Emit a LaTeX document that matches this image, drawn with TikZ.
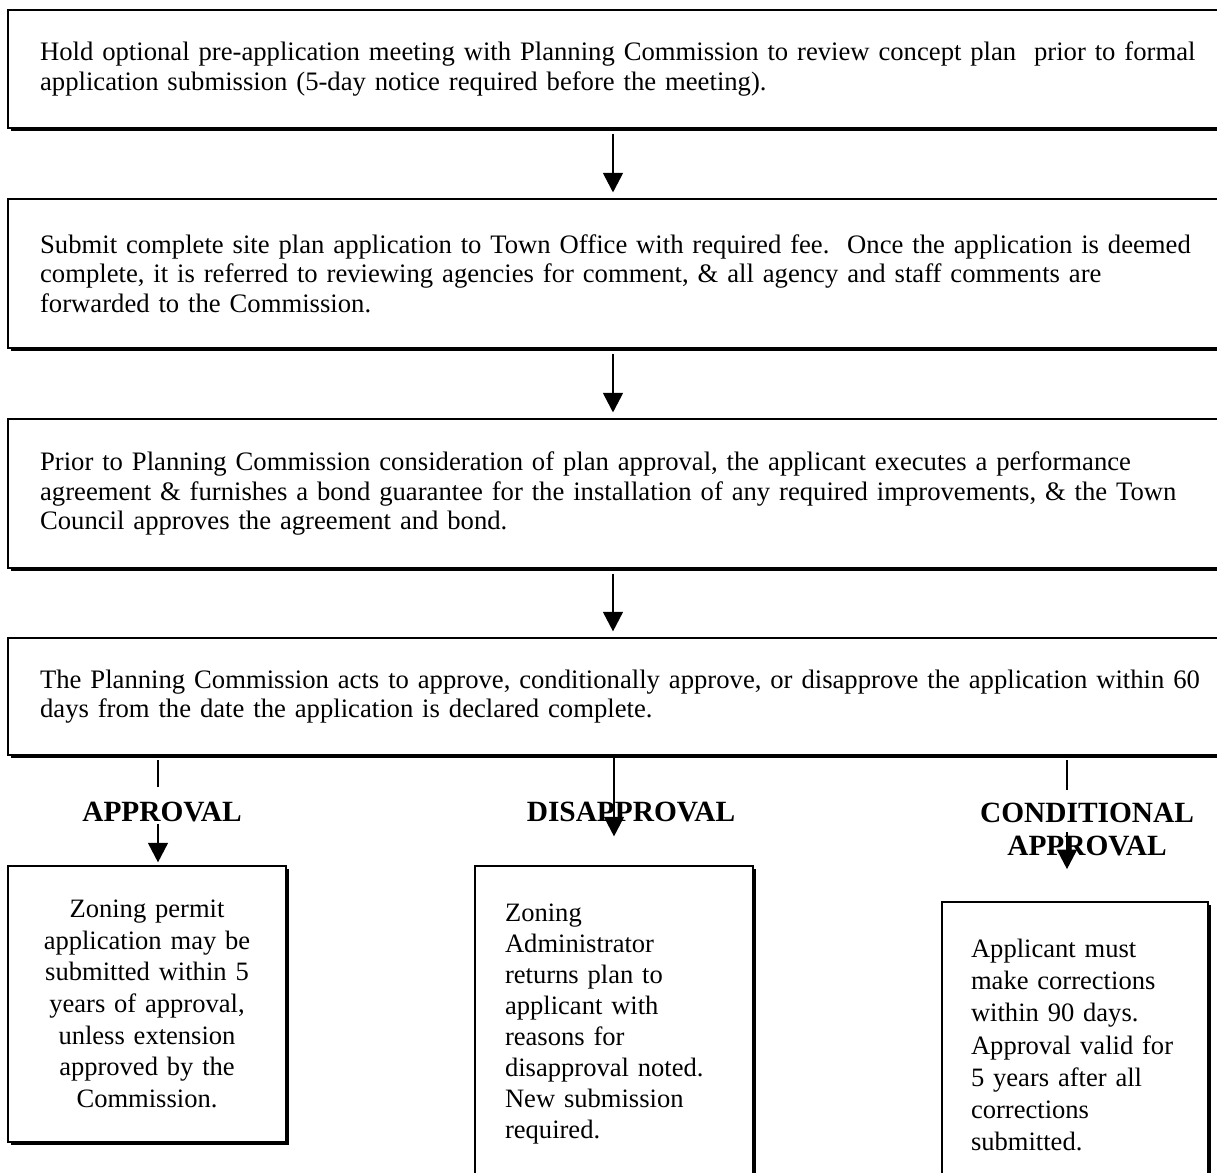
\documentclass[tikz,border=0pt]{standalone}
\usepackage{fontspec}
\setmainfont{Liberation Serif}
\usetikzlibrary{arrows.meta,shadows}

\tikzset{
	widebox/.style={draw, line width=0.65pt, fill=white, drop shadow={shadow xshift=1.4pt, shadow yshift=-1.4pt, opacity=1, fill=black}, text width=525.6pt, inner xsep=14.2pt, inner ysep=0pt, align=left, font={\fontsize{11.8}{13}\selectfont}},
	smallbox/.style={draw, line width=0.65pt, fill=white, drop shadow={shadow xshift=1.4pt, shadow yshift=-1.4pt, opacity=1, fill=black}, inner ysep=0pt, minimum width=123pt},
	headlbl/.style={inner sep=0pt, anchor=north, align=center, font={\bfseries\fontsize{13}{14.6}\selectfont}},
	flowarrow/.style={line width=0.6pt, -{Triangle[width=8.8pt,length=8.6pt]}},
	branchline/.style={line width=0.6pt}
}

\begin{document}
\begin{tikzpicture}[x=0.4425pt,y=-0.4425pt]

	\path[use as bounding box, fill=white] (0,0) rectangle (1217,1173);

	% main steps
	\node (hold) at (634,69) [widebox, minimum height=52.2pt] {Hold optional pre-application meeting with Planning Commission to review concept plan\ \ prior to formal\\ application submission (5-day notice required before the meeting).};
	\node (submit) at (634,273.5) [widebox, minimum height=65.9pt] {Submit complete site plan application to Town Office with required fee.\ \ Once the application is deemed\\ complete, it is referred to reviewing agencies for comment, \& all agency and staff comments are\\ forwarded to the Commission.};
	\node (bond) at (634,493.5) [widebox, minimum height=65.9pt] {Prior to Planning Commission consideration of plan approval, the applicant executes a performance\\ agreement \& furnishes a bond guarantee for the installation of any required improvements, \& the Town\\ Council approves the agreement and bond.};
	\node (decide) at (634,696.5) [widebox, minimum height=51.8pt] {The Planning Commission acts to approve, conditionally approve, or disapprove the application within 60\\ days from the date the application is declared complete.};

	\coordinate (midcol) at (613,0);
	\draw[flowarrow, shorten <=2.2pt, shorten >=2.6pt] (hold.south -| midcol) -- (submit.north -| midcol);
	\draw[flowarrow, shorten <=2.2pt, shorten >=2.6pt] (submit.south -| midcol) -- (bond.north -| midcol);
	\draw[flowarrow, shorten <=2.2pt, shorten >=2.6pt] (bond.south -| midcol) -- (decide.north -| midcol);

	% outcomes
	\node (apprlbl) at (162,802) [headlbl] {APPROVAL};
	\node (disapprlbl) at (631,802) [headlbl] {DISAPPROVAL};
	\node (condlbl) at (1087,803) [headlbl] {CONDITIONAL\\APPROVAL};

	\node (approve) at (147,1004) [smallbox, minimum height=122.1pt, text width=107pt, inner xsep=8pt, align=center, font={\fontsize{11.75}{14}\selectfont}] {Zoning permit\\ application may be\\ submitted within 5\\ years of approval,\\ unless extension\\ approved by the\\ Commission.};
	\node (reject) at (614,1024) [smallbox, minimum height=139.8pt, text width=96.4pt, inner xsep=13.3pt, align=left, font={\fontsize{11.75}{13.7}\selectfont}] {Zoning\\ Administrator\\ returns plan to\\ applicant with\\ reasons for\\ disapproval noted.\\ New submission\\ required.};
	\node (amend) at (1075,1045) [smallbox, minimum width=117.7pt, minimum height=126.6pt, text width=92pt, inner xsep=12.9pt, align=left, font={\fontsize{11.75}{14.2}\selectfont}] {Applicant must\\ make corrections\\ within 90 days.\\ Approval valid for\\ 5 years after all\\ corrections\\ submitted.};

	\coordinate (acol) at (158,0);
	\coordinate (dcol) at (614,0);
	\coordinate (ccol) at (1067,0);
	\coordinate (afrom) at (158,824);
	\coordinate (cfrom) at (1067,832);

	\draw[branchline, shorten <=1.8pt, shorten >=6.6pt] (decide.south -| acol) -- (apprlbl.north -| acol);
	\draw[flowarrow, shorten >=1.3pt] (afrom) -- (approve.north -| acol);
	\draw[flowarrow, shorten >=12.8pt] (decide.south -| dcol) -- (reject.north -| dcol);
	\draw[branchline, shorten <=1.8pt, shorten >=5.8pt] (decide.south -| ccol) -- (condlbl.north -| ccol);
	\draw[flowarrow, shorten >=14.2pt] (cfrom) -- (amend.north -| ccol);

\end{tikzpicture}
\end{document}
